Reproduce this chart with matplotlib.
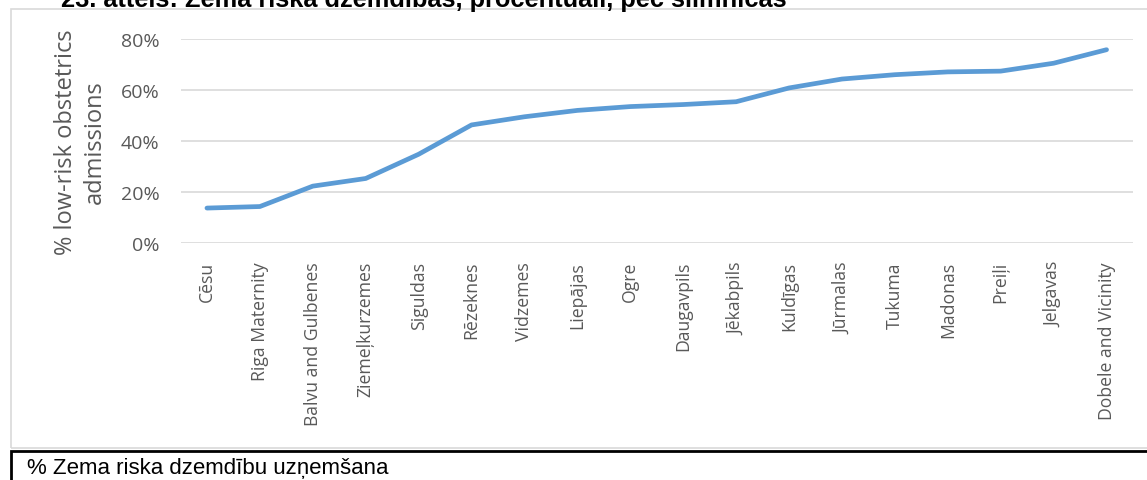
import matplotlib
matplotlib.use("Agg")
import matplotlib.pyplot as plt
from matplotlib.patches import Rectangle
from matplotlib.ticker import PercentFormatter

hospitals = ["Cēsu", "Riga Maternity", "Balvu and Gulbenes", "Ziemeļkurzemes",
             "Siguldas", "Rēzeknes", "Vidzemes", "Liepājas", "Ogre", "Daugavpils",
             "Jēkabpils", "Kuldīgas", "Jūrmalas", "Tukuma", "Madonas", "Preiļi",
             "Jelgavas", "Dobele and Vicinity"]
low_risk_share = [13.7, 14.3, 22.3, 25.3, 34.8, 46.3, 49.5, 52.0, 53.5, 54.3,
                  55.4, 60.8, 64.3, 66.0, 67.1, 67.4, 70.5, 75.8]
y_ticks = [0, 20, 40, 60, 80]

W, H = 1147, 481
fig = plt.figure(figsize=(W / 100, H / 100), dpi=100)
plt.rcParams['font.family'] = ['Open Sans', 'DejaVu Sans']

# chart frame and caption box
fig.patches.append(Rectangle((11 / W, 1 - 449 / H), 1.2, (449 - 10) / H,
                             transform=fig.transFigure, fill=False,
                             edgecolor='#d9d9d9', linewidth=1.2))
fig.patches.append(Rectangle((11 / W, -0.1), 1.2, 0.1 + (H - 452) / H,
                             transform=fig.transFigure, fill=False,
                             edgecolor='black', linewidth=2))

ax = fig.add_axes([180.5 / W, 1 - 244 / H, (1133 - 180.5) / W, (244 - 40) / H])
x = range(len(hospitals))
ax.plot(x, low_risk_share, color='#5b9bd5', linewidth=3.4,
        solid_capstyle='round', solid_joinstyle='round', zorder=3)

ax.set_xlim(-0.5, len(hospitals) - 0.5)
ax.set_ylim(0, 80)
ax.set_yticks(y_ticks)
ax.yaxis.set_major_formatter(PercentFormatter(decimals=0))
ax.set_xticks(list(x))
ax.set_xticklabels(hospitals, rotation=90, va='top', ha='center')
ax.tick_params(axis='both', length=0, colors='#595959')
ax.tick_params(axis='x', pad=13, labelsize=12.7)
ax.tick_params(axis='y', pad=15, labelsize=14)
ax.grid(axis='y', color='#d9d9d9', linewidth=1.2)
ax.set_axisbelow(True)
for s in ax.spines.values():
    s.set_visible(False)

ax.set_ylabel("% low-risk obstetrics\nadmissions", fontsize=17,
              color='#595959', linespacing=1.3)
ax.yaxis.set_label_coords(-0.077, 0.5)

fig.text(61 / W, 1 - 0 / H, "23. attēls: Zema riska dzemdības, procentuāli, pēc slimnīcas",
         fontsize=18.3, fontweight='bold', ha='left', va='center',
         family=['Liberation Sans', 'DejaVu Sans'])
fig.text(27 / W, 1 - 469 / H, "% Zema riska dzemdību uzņemšana",
         fontsize=16, ha='left', va='center', family=['Liberation Sans', 'DejaVu Sans'])

fig.savefig("out.png", dpi=100)
